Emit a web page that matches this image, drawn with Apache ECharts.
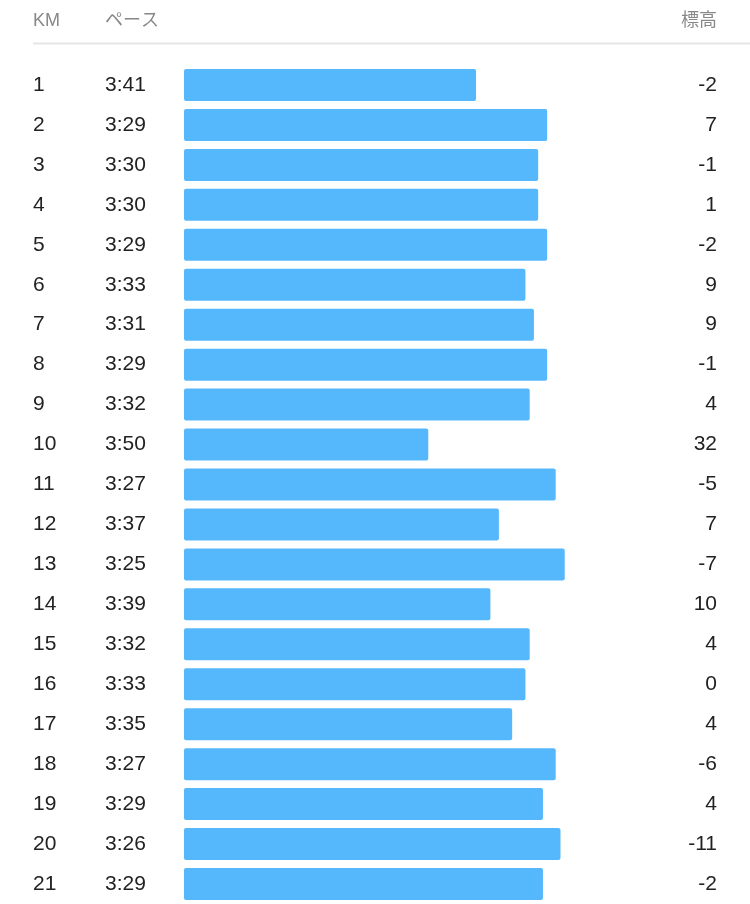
<!DOCTYPE html>
<html>
<head>
<meta charset="utf-8">
<script src="https://cdn.jsdelivr.net/npm/echarts@6/dist/echarts.min.js"></script>
<style>
  html, body { margin: 0; padding: 0; background: #fff; }
  #chart { width: 750px; height: 904px; }
</style>
</head>
<body>
<div id="chart"></div>
<script>
var kmList = ['1', '2', '3', '4', '5', '6', '7', '8', '9', '10', '11', '12', '13', '14', '15', '16', '17', '18', '19', '20', '21'];
var paceList = ['3:41', '3:29', '3:30', '3:30', '3:29', '3:33', '3:31', '3:29', '3:32', '3:50', '3:27',
                '3:37', '3:25', '3:39', '3:32', '3:33', '3:35', '3:27', '3:29', '3:26', '3:29'];
var elevList = [-2, 7, -1, 1, -2, 9, 9, -1, 4, 32, -5, 7, -7, 10, 4, 0, 4, -6, 4, -11, -2];
// バーの長さ(0〜100 の相対値、図から読み取り)
var barList = [55.0, 68.4, 66.7, 66.7, 68.4, 64.3, 65.9, 68.4, 65.1, 46.0, 70.0,
               59.3, 71.7, 57.7, 65.1, 64.3, 61.8, 70.0, 67.6, 70.9, 67.6];

var fontFamily = '"Liberation Sans", "Noto Sans CJK JP", sans-serif';
var textColor = '#222';
var headColor = '#888';

function labelStyle(align, margin) {
    return { align: align, margin: margin, color: textColor, fontSize: 21,
             fontFamily: fontFamily, padding: [7, 0, 0, 0] };
}

var myChart = echarts.init(document.getElementById('chart'));
myChart.setOption({
    animation: false,
    grid: { left: 184, right: 35, top: 65, height: 840 },
    graphic: [
        { type: 'text', left: 33, top: 12, style: { text: 'KM', fill: headColor, font: '18px ' + fontFamily } },
        { type: 'text', left: 105, top: 12, style: { text: 'ペース', fill: headColor, font: '18px ' + fontFamily } },
        { type: 'text', right: 33, top: 12, style: { text: '標高', fill: headColor, font: '18px ' + fontFamily } },
        { type: 'line', shape: { x1: 33, y1: 43.5, x2: 750, y2: 43.5 }, style: { stroke: '#e6e6e6', lineWidth: 2 } }
    ],
    xAxis: {
        type: 'value',
        min: 0,
        max: 100,
        show: false
    },
    yAxis: [
        {
            type: 'category',
            inverse: true,
            data: kmList,
            position: 'left',
            axisLine: { show: false },
            axisTick: { show: false },
            axisLabel: labelStyle('left', 151)
        },
        {
            type: 'category',
            inverse: true,
            data: paceList,
            position: 'left',
            axisLine: { show: false },
            axisTick: { show: false },
            axisLabel: labelStyle('left', 79)
        },
        {
            type: 'category',
            inverse: true,
            data: elevList,
            position: 'right',
            axisLine: { show: false },
            axisTick: { show: false },
            axisLabel: labelStyle('right', 2)
        }
    ],
    series: [{
        type: 'bar',
        yAxisIndex: 0,
        data: barList,
        barWidth: 32,
        itemStyle: { color: '#55b8fd', borderRadius: 2 }
    }]
});
</script>
</body>
</html>
